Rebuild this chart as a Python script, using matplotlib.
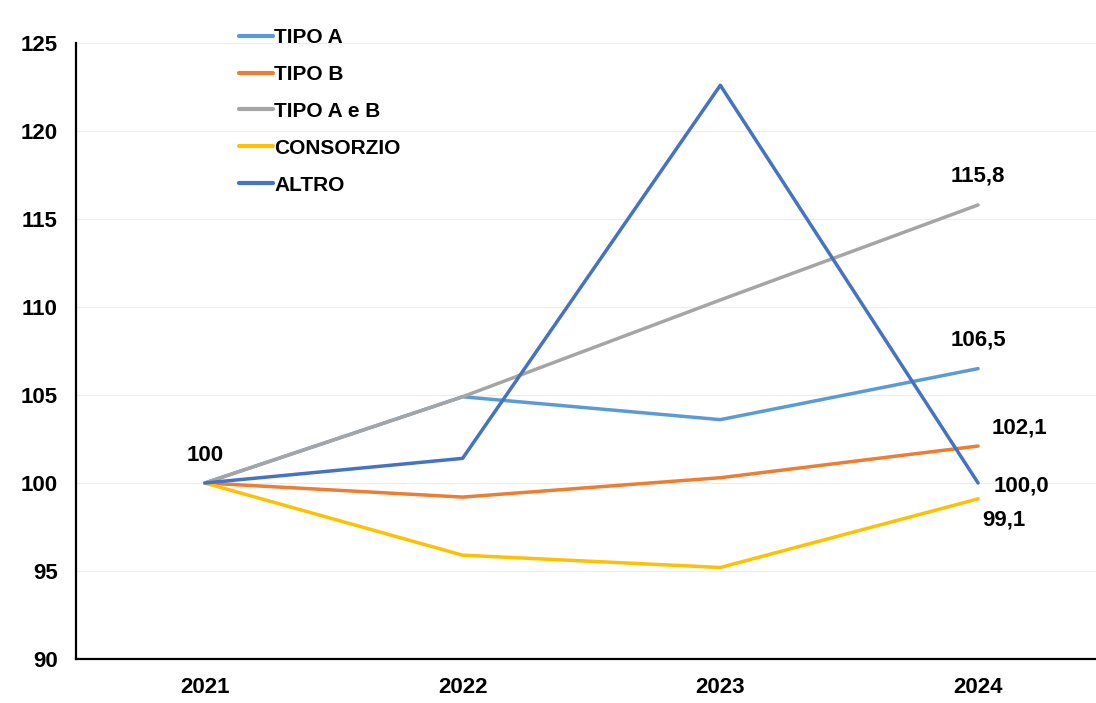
import matplotlib.pyplot as plt

plt.rcParams['font.family'] = ['Liberation Sans', 'DejaVu Sans']
plt.rcParams['font.weight'] = 'bold'

years = ['2021', '2022', '2023', '2024']
tipo_a = [100, 104.9, 103.6, 106.5]
tipo_b = [100, 99.2, 100.3, 102.1]
tipo_ab = [100, 104.9, 110.4, 115.8]
consorzio = [100, 95.9, 95.2, 99.1]
altro = [100, 101.4, 122.6, 100.0]

series = [('TIPO A', tipo_a, '#5B9BD5'),
          ('TIPO B', tipo_b, '#ED7D31'),
          ('TIPO A e B', tipo_ab, '#A5A5A5'),
          ('CONSORZIO', consorzio, '#FFC000'),
          ('ALTRO', altro, '#4472C4')]

fig = plt.figure(figsize=(10.96, 7.03), dpi=100)
ax = fig.add_axes([0.0693, 0.0626, 0.9407, 0.8762])
x = range(len(years))
for name, vals, col in series:
    ax.plot(x, vals, color=col, lw=2.5, label=name, solid_capstyle='round')

ax.set_xlim(-0.5, 3.5)
ax.set_ylim(90, 125)
ax.set_yticks(range(90, 126, 5))
ax.set_xticks(list(x))
ax.set_xticklabels(years)
ax.tick_params(length=0, labelsize=16, pad=13)
ax.tick_params(axis='y', pad=13)
for t in ax.get_xticklabels() + ax.get_yticklabels():
    t.set_fontweight('bold')
ax.grid(axis='y', color='#ececec', lw=0.8)
ax.set_axisbelow(True)
for s in ['top', 'right']:
    ax.spines[s].set_visible(False)
for s in ['left', 'bottom']:
    ax.spines[s].set_linewidth(1.6)

# data labels
lbl = dict(fontsize=16, fontweight='bold', textcoords='offset points', ha='center', va='center')
ax.annotate('100', (0, tipo_a[0]), xytext=(0, 20), **lbl)
ax.annotate('106,5', (3, tipo_a[3]), xytext=(0, 20.5), **lbl)
ax.annotate('115,8', (3, tipo_ab[3]), xytext=(0, 21), **lbl)
ax.annotate('102,1', (3, tipo_b[3]), xytext=(29.5, 13), **lbl)
ax.annotate('100,0', (3, altro[3]), xytext=(31.5, -2), **lbl)
ax.annotate('99,1', (3, consorzio[3]), xytext=(18.5, -15), **lbl)

leg = ax.legend(loc='upper left', bbox_to_anchor=(0.201, 0.987), bbox_transform=fig.transFigure,
                frameon=False, handlelength=1.65, handletextpad=0.05,
                labelspacing=0.86, prop={'weight': 'bold', 'size': 15})
for h in leg.get_lines():
    h.set_linewidth(3)

fig.savefig('out.png', dpi=100)
